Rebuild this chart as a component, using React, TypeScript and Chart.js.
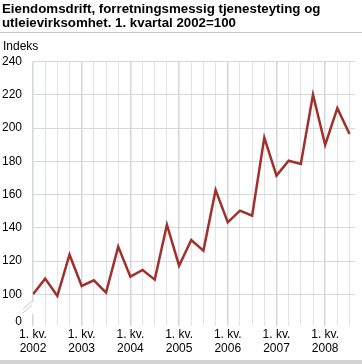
import React, { useEffect, useRef } from "react";
import { Chart, registerables } from "chart.js";

Chart.register(...registerables);

const titleLines = [
  "Eiendomsdrift, forretningsmessig tjenesteyting og",
  "utleievirksomhet. 1. kvartal 2002=100",
];
const yAxisTitle = "Indeks";
const years = ["2002", "2003", "2004", "2005", "2006", "2007", "2008"];
const quarterLabel = "1. kv.";
const values = [
  100, 109.4, 99, 123.8, 105, 108.4, 101, 128.7, 110.6, 114.6, 108.8, 141.9,
  117.2, 132.7, 126.3, 162.8, 143.3, 150.3, 147.3, 194.3, 171.4, 180.4, 178.4,
  220.2, 189.9, 212, 196.5,
];
const yTicks = [100, 120, 140, 160, 180, 200, 220, 240];
const yBreakMin = 83.3;

const FONT = "'Liberation Sans', Arial, sans-serif";

const decor = {
  id: "decor",
  beforeDraw(chart: any) {
    const ctx = chart.ctx;
    ctx.save();
    ctx.fillStyle = "#ffffff";
    ctx.fillRect(0, 0, chart.width, chart.height);
    ctx.restore();
  },
  afterDraw(chart: any) {
    const ctx = chart.ctx;
    const area = chart.chartArea;
    ctx.save();
    ctx.fillStyle = "#000";
    ctx.textBaseline = "alphabetic";
    ctx.textAlign = "left";
    ctx.font = `bold 13.3px ${FONT}`;
    ctx.fillText(titleLines[0], 2, 13);
    ctx.fillText(titleLines[1], 2, 27);
    ctx.fillStyle = "#c8c8c8";
    ctx.fillRect(0, 32, chart.width, 1);
    ctx.fillStyle = "#d3d3d3";
    ctx.fillRect(0, 360, chart.width, 4);
    ctx.fillStyle = "#000";
    ctx.font = `12px ${FONT}`;
    ctx.fillText(yAxisTitle, 3, 50);
    // break marks
    const x = area.left;
    ctx.fillStyle = "#fff";
    ctx.fillRect(x - 1, 302, 3, 12);
    ctx.strokeStyle = "#c4c7cf";
    ctx.lineWidth = 1;
    ctx.beginPath();
    ctx.moveTo(23, 309);
    ctx.lineTo(32, 301);
    ctx.moveTo(23, 313);
    ctx.lineTo(32, 305);
    ctx.stroke();
    ctx.restore();
  },
};

export default function App() {
  const ref = useRef<HTMLCanvasElement | null>(null);
  useEffect(() => {
    if (!ref.current) return;
    const chart = new Chart(ref.current, {
      type: "line",
      data: {
        datasets: [
          {
            data: values.map((v, i) => ({ x: i, y: v })),
            borderColor: "#a0302b",
            borderWidth: 2.5,
            pointRadius: 0,
            tension: 0,
            fill: false,
          },
        ],
      },
      options: {
        animation: false,
        responsive: false,
        devicePixelRatio: 1,
        layout: { padding: { top: 61.7, right: 7, left: 0, bottom: 0 } },
        plugins: {
          legend: { display: false },
          tooltip: { enabled: false },
          title: { display: false },
        },
        scales: {
          x: {
            type: "linear",
            min: 0,
            max: 26.45,
            afterBuildTicks: (axis: any) => {
              axis.ticks = values.map((_, i) => ({ value: i }));
            },
            afterFit: (axis: any) => {
              axis.height = 42;
            },
            border: { display: false },
            grid: {
              color: (c: any) =>
                c.tick && c.tick.value % 4 === 0 ? "#d3d6de" : "#e1e3e8",
              lineWidth: (c: any) => (c.tick && c.tick.value % 4 === 0 ? 1.5 : 1),
              drawTicks: true,
              tickLength: 4,
              tickColor: (c: any) =>
                c.tick && c.tick.value % 4 === 0 ? "#d3d6de" : "#e1e3e8",
            },
            ticks: {
              autoSkip: false,
              maxRotation: 0,
              padding: 2,
              color: "#000",
              font: { family: FONT, size: 12, lineHeight: 1.15 },
              callback: (v: any) => {
                const i = Number(v);
                if (i % 4 === 0) return [quarterLabel, years[i / 4]];
                return "";
              },
            },
          },
          y: {
            type: "linear",
            min: yBreakMin,
            max: 240,
            afterBuildTicks: (axis: any) => {
              axis.ticks = [{ value: yBreakMin }, ...yTicks.map((v) => ({ value: v }))];
            },
            afterFit: (axis: any) => {
              axis.width = 33;
            },
            border: { display: false },
            grid: {
              color: (c: any) =>
                c.tick && c.tick.value === yBreakMin ? "rgba(0,0,0,0)" : "#d7d9e0",
              lineWidth: 1,
              drawTicks: false,
            },
            ticks: {
              autoSkip: false,
              padding: 11,
              color: "#000",
              font: { family: FONT, size: 12 },
              callback: (v: any) => (Number(v) === yBreakMin ? "0" : String(v)),
            },
          },
        },
      },
      plugins: [decor],
    } as any);
    return () => chart.destroy();
  }, []);
  return (
    <div style={{ position: "absolute", left: 0, top: 0, width: 362, height: 364 }}>
      <canvas ref={ref} width={362} height={364} style={{ display: "block" }} />
    </div>
  );
}
